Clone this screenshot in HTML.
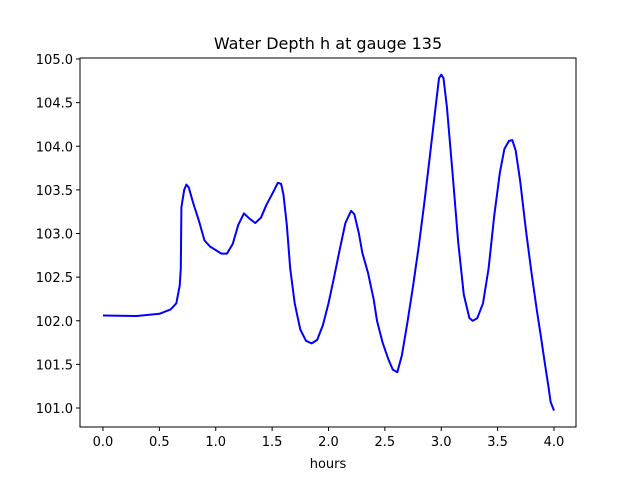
<!DOCTYPE html>
<html><head><meta charset="utf-8"><style>
body{margin:0;background:#fff;}
svg text{font-family:"DejaVu Sans","Liberation Sans",sans-serif;fill:#000;}
</style></head><body>
<svg id="chart" width="640" height="480" xmlns="http://www.w3.org/2000/svg">
<rect width="640" height="480" fill="#fff"/>
<text x="328" y="49" text-anchor="middle" font-size="16">Water Depth h at gauge 135</text>
<g id="ticks"></g>
<path id="series" fill="none" stroke="#0000ff" stroke-width="2" stroke-linejoin="round"/>
<rect x="80" y="58" width="496" height="369" fill="none" stroke="#000" stroke-width="1"/>
<text x="328" y="468" text-anchor="middle" font-size="13">hours</text>
</svg>
<script>
const hours=[0,0.3,0.5,0.6,0.65,0.68,0.69,0.695,0.72,0.74,0.76,0.8,0.85,0.9,0.95,1.0,1.05,1.1,1.15,1.2,1.25,1.3,1.35,1.4,1.45,1.5,1.55,1.58,1.6,1.63,1.66,1.7,1.75,1.8,1.85,1.9,1.95,2.0,2.05,2.1,2.15,2.2,2.23,2.27,2.3,2.35,2.4,2.43,2.48,2.53,2.57,2.61,2.65,2.7,2.75,2.8,2.85,2.9,2.95,2.98,3.0,3.02,3.05,3.1,3.15,3.2,3.25,3.28,3.32,3.37,3.42,3.47,3.52,3.56,3.6,3.63,3.66,3.7,3.75,3.8,3.85,3.88,3.92,3.95,3.97,4.0];
const depth=[102.06,102.055,102.08,102.13,102.2,102.4,102.6,103.3,103.5,103.56,103.53,103.35,103.15,102.92,102.85,102.81,102.77,102.77,102.88,103.1,103.23,103.17,103.12,103.18,103.33,103.45,103.58,103.57,103.45,103.1,102.6,102.2,101.9,101.77,101.74,101.78,101.95,102.2,102.5,102.82,103.12,103.26,103.22,103.0,102.78,102.55,102.25,102.0,101.75,101.56,101.44,101.41,101.6,101.98,102.4,102.85,103.35,103.9,104.45,104.78,104.82,104.78,104.45,103.7,102.9,102.3,102.03,102.0,102.03,102.2,102.6,103.2,103.7,103.97,104.06,104.07,103.95,103.6,103.05,102.55,102.1,101.85,101.5,101.25,101.07,100.97];
const xTicks=["0.0","0.5","1.0","1.5","2.0","2.5","3.0","3.5","4.0"];
const yTicks=["101.0","101.5","102.0","102.5","103.0","103.5","104.0","104.5","105.0"];
const X=v=>103+v*112.75;
const Y=v=>408-(v-101)*87.25;
const ns="http://www.w3.org/2000/svg";
const g=document.getElementById('ticks');
function mk(t,a){const e=document.createElementNS(ns,t);for(const k in a)e.setAttribute(k,a[k]);g.appendChild(e);return e;}
xTicks.forEach(t=>{const x=X(parseFloat(t));
const l=mk('line',{x1:x,x2:x,y1:427,y2:431,stroke:'#000'});


const s=mk('text',{x:x,y:446,'text-anchor':'middle','font-size':13});s.textContent=t;

});
yTicks.forEach(t=>{const y=Y(parseFloat(t));
const l=mk('line',{x1:76,x2:80,y1:y,y2:y,stroke:'#000'});


const s=mk('text',{x:73,y:y+5,'text-anchor':'end','font-size':13});s.textContent=t;

});
document.getElementById('series').setAttribute('d',hours.map((h,i)=>(i?'L':'M')+X(h).toFixed(1)+','+Y(depth[i]).toFixed(1)).join(''));
</script>
</body></html>
